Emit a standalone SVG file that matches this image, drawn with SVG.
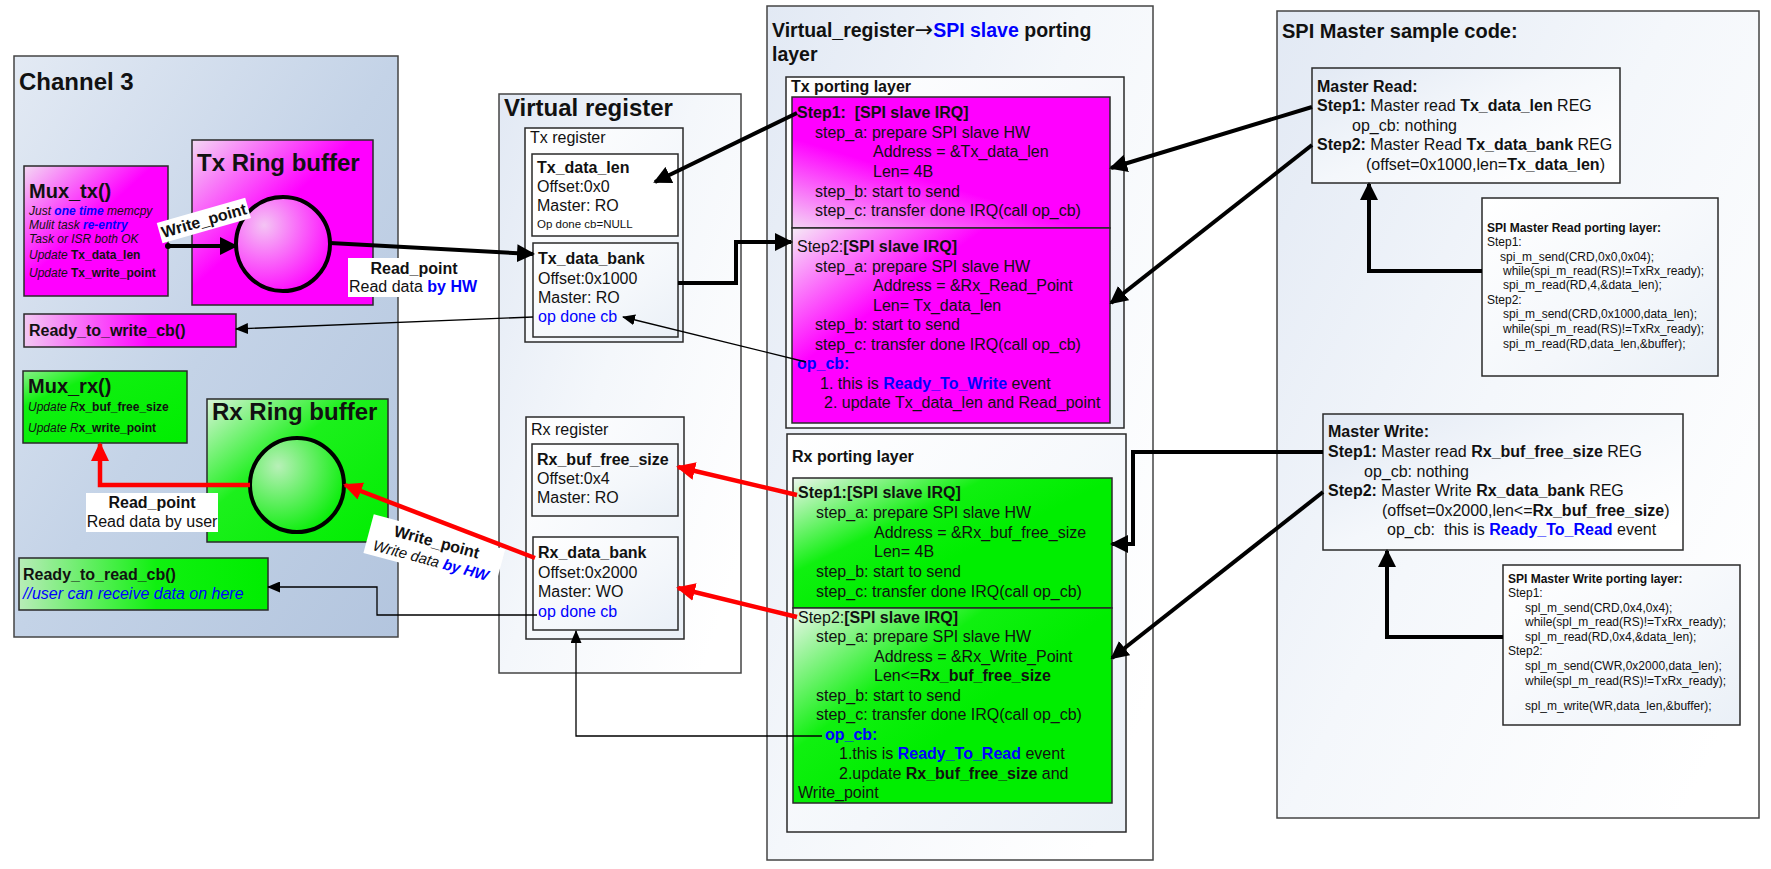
<svg xmlns="http://www.w3.org/2000/svg" width="1771" height="869" viewBox="0 0 1771 869">
<defs>
<style>
text{font-family:"Liberation Sans",Arial,sans-serif;fill:#111}
.b{font-weight:bold}
.n{font-weight:normal}
.i{font-style:italic}
.up{font-style:normal}
.blue{fill:#0000ff}
.f16{font-size:16px}
.f12{font-size:12px}
.box{stroke:#2a2a2a;stroke-width:1.5}
.frame{stroke:#444;stroke-width:1.5}
.thick{stroke:#000;stroke-width:4;fill:none}
.thin{stroke:#000;stroke-width:1.3;fill:none}
.red{stroke:#ff0000;stroke-width:4.5;fill:none}
.lbl{fill:#fff}
.arw{font-family:"DejaVu Sans",sans-serif;font-weight:normal}
</style>
<linearGradient id="gCh3" x1="0" y1="0" x2="1" y2="1">
<stop offset="0" stop-color="#e3eaf4"/><stop offset="0.5" stop-color="#c4d3e7"/><stop offset="1" stop-color="#b3c5de"/>
</linearGradient>
<linearGradient id="gPale" x1="0" y1="0" x2="1" y2="0.8">
<stop offset="0" stop-color="#e2e9f4"/><stop offset="0.5" stop-color="#f4f7fb"/><stop offset="1" stop-color="#ffffff"/>
</linearGradient>
<linearGradient id="gWhite" x1="0" y1="0" x2="1" y2="1">
<stop offset="0" stop-color="#ffffff"/><stop offset="0.6" stop-color="#f4f7fb"/><stop offset="1" stop-color="#eaf0f7"/>
</linearGradient>
<linearGradient id="gPink" x1="0" y1="0" x2="1" y2="1">
<stop offset="0" stop-color="#f3d8f3"/><stop offset="0.45" stop-color="#ff00ff"/><stop offset="1" stop-color="#ff00ff"/>
</linearGradient>
<linearGradient id="gPinkH" x1="0" y1="0" x2="1" y2="0">
<stop offset="0" stop-color="#f2c8f2"/><stop offset="0.6" stop-color="#ff00ff"/><stop offset="1" stop-color="#ff00ff"/>
</linearGradient>
<linearGradient id="gPink1" x1="0" y1="1" x2="0.6" y2="0.2">
<stop offset="0" stop-color="#f4d4f4"/><stop offset="0.55" stop-color="#ff00ff"/><stop offset="1" stop-color="#ff00ff"/>
</linearGradient>
<linearGradient id="gPink2" x1="0" y1="0" x2="0.6" y2="0.5">
<stop offset="0" stop-color="#f6eaf6"/><stop offset="0.6" stop-color="#ff00ff"/><stop offset="1" stop-color="#ff00ff"/>
</linearGradient>
<linearGradient id="gGreen" x1="0" y1="0" x2="1" y2="1">
<stop offset="0" stop-color="#d9f4d9"/><stop offset="0.4" stop-color="#1cf01c"/><stop offset="1" stop-color="#00ee00"/>
</linearGradient>
<linearGradient id="gGreenS" x1="0" y1="0" x2="1" y2="1">
<stop offset="0" stop-color="#88f088"/><stop offset="0.25" stop-color="#10f010"/><stop offset="1" stop-color="#00ee00"/>
</linearGradient>
<linearGradient id="gGreenH" x1="0" y1="0" x2="1" y2="0">
<stop offset="0" stop-color="#b8ecb8"/><stop offset="0.55" stop-color="#10f010"/><stop offset="1" stop-color="#00ee00"/>
</linearGradient>
<linearGradient id="gGreen2" x1="0" y1="0" x2="0.6" y2="0.5">
<stop offset="0" stop-color="#eef6ee"/><stop offset="0.6" stop-color="#10f010"/><stop offset="1" stop-color="#00ee00"/>
</linearGradient>
<radialGradient id="gCircP" cx="0.3" cy="0.3" r="0.8">
<stop offset="0" stop-color="#f4c4f4"/><stop offset="1" stop-color="#ff00ff"/>
</radialGradient>
<radialGradient id="gCircG" cx="0.3" cy="0.3" r="0.8">
<stop offset="0" stop-color="#b8f0b8"/><stop offset="1" stop-color="#00ee00"/>
</radialGradient>
<marker id="aBig" markerUnits="userSpaceOnUse" markerWidth="18" markerHeight="18" refX="16" refY="9" orient="auto"><path d="M0,0 L18,9 L0,18 z" fill="#000"/></marker>
<marker id="aRed" markerUnits="userSpaceOnUse" markerWidth="19" markerHeight="18" refX="17" refY="9" orient="auto"><path d="M0,0 L19,9 L0,18 z" fill="#ff0000"/></marker>
<marker id="aThin" markerUnits="userSpaceOnUse" markerWidth="13" markerHeight="11" refX="12" refY="5.5" orient="auto"><path d="M0,0 L13,5.5 L0,11 z" fill="#000"/></marker>
</defs>
<rect width="1771" height="869" fill="#ffffff"/>

<!-- containers -->
<g id="channel3">
<rect x="14" y="56" width="384" height="581" fill="url(#gCh3)" class="frame"/>
<text x="19" y="90" class="b" font-size="24">Channel 3</text>
</g>
<g id="virtual-register">
<rect x="499" y="94" width="242" height="579" fill="url(#gPale)" class="frame"/>
<text x="504" y="116" class="b" font-size="24">Virtual register</text>
</g>
<g id="spi-slave-porting">
<rect x="767" y="6" width="386" height="854" fill="url(#gPale)" class="frame"/>
<text x="772" y="37" class="b" font-size="19.5">Virtual_register<tspan class="arw" font-size="22">→</tspan><tspan class="blue">SPI slave</tspan> porting</text>
<text x="772" y="61" class="b" font-size="19.5">layer</text>
</g>
<g id="spi-master">
<rect x="1277" y="11" width="482" height="807" fill="url(#gPale)" class="frame"/>
<text x="1282" y="38" class="b" font-size="20">SPI Master sample code:</text>
</g>

<!-- Channel 3 nodes -->
<g id="tx-ring-buffer">
<rect x="192" y="140" width="181" height="165" fill="url(#gPink)" class="box"/>
<text x="197" y="171" class="b" font-size="24">Tx Ring buffer</text>
<circle cx="283" cy="244" r="47" fill="url(#gCircP)" stroke="#000" stroke-width="4"/>
</g>
<g id="mux-tx">
<rect x="24" y="166" width="144" height="130" fill="url(#gPink)" class="box"/>
<text x="29" y="198" class="b" font-size="20">Mux_tx()</text>
<text x="29" y="215" class="i f12">Just <tspan class="b blue">one time</tspan> memcpy</text>
<text x="29" y="229" class="i f12">Mulit task <tspan class="b blue">re-entry</tspan></text>
<text x="29" y="243" class="i f12">Task or ISR both OK</text>
<text x="29" y="259" class="i f12">Update <tspan class="b up">Tx_data_len</tspan></text>
<text x="29" y="277" class="i f12">Update <tspan class="b up">Tx_write_point</tspan></text>
</g>
<g id="ready-to-write-cb">
<rect x="24" y="314" width="212" height="33" fill="url(#gPinkH)" class="box"/>
<text x="29" y="336" class="b f16">Ready_to_write_cb()</text>
</g>
<g id="mux-rx">
<rect x="23" y="371" width="164" height="72" fill="url(#gGreenS)" class="box"/>
<text x="28" y="393" class="b" font-size="20">Mux_rx()</text>
<text x="28" y="411" class="i f12">Update R<tspan class="b up">x_buf_free_size</tspan></text>
<text x="28" y="432" class="i f12">Update R<tspan class="b up">x_write_point</tspan></text>
</g>
<g id="rx-ring-buffer">
<rect x="207" y="399" width="181" height="143" fill="url(#gGreen)" class="box"/>
<text x="212" y="420" class="b" font-size="24">Rx Ring buffer</text>
<circle cx="297" cy="485" r="47" fill="url(#gCircG)" stroke="#000" stroke-width="4"/>
</g>
<g id="ready-to-read-cb">
<rect x="19" y="558" width="249" height="52" fill="url(#gGreenH)" class="box"/>
<text x="23" y="580" class="b f16">Ready_to_read_cb()</text>
<text x="23" y="599" class="i f16 blue">//user can receive data on here</text>
</g>

<!-- Virtual register nodes -->
<g id="tx-register">
<rect x="525" y="128" width="158" height="214" fill="url(#gWhite)" class="box"/>
<text x="530" y="143" class="f16">Tx register</text>
</g>
<g id="tx-data-len">
<rect x="532" y="154" width="146" height="82" fill="#ffffff" class="box"/>
<text x="537" y="173" class="b f16">Tx_data_len</text>
<text x="537" y="192" class="f16">Offset:0x0</text>
<text x="537" y="211" class="f16">Master: RO</text>
<text x="537" y="228" font-size="11.5">Op done cb=NULL</text>
</g>
<g id="tx-data-bank">
<rect x="533" y="243" width="145" height="94" fill="url(#gWhite)" class="box"/>
<text x="538" y="264" class="b f16">Tx_data_bank</text>
<text x="538" y="284" class="f16">Offset:0x1000</text>
<text x="538" y="303" class="f16">Master: RO</text>
<text x="538" y="322" class="f16 blue">op done cb</text>
</g>
<g id="rx-register">
<rect x="526" y="417" width="158" height="222" fill="url(#gWhite)" class="box"/>
<text x="531" y="435" class="f16">Rx register</text>
</g>
<g id="rx-buf-free-size">
<rect x="532" y="444" width="146" height="72" fill="url(#gWhite)" class="box"/>
<text x="537" y="465" class="b f16">Rx_buf_free_size</text>
<text x="537" y="484" class="f16">Offset:0x4</text>
<text x="537" y="503" class="f16">Master: RO</text>
</g>
<g id="rx-data-bank">
<rect x="533" y="537" width="145" height="93" fill="url(#gWhite)" class="box"/>
<text x="538" y="558" class="b f16">Rx_data_bank</text>
<text x="538" y="578" class="f16">Offset:0x2000</text>
<text x="538" y="597" class="f16">Master: WO</text>
<text x="538" y="617" class="f16 blue">op done cb</text>
</g>

<!-- SPI slave porting nodes -->
<g id="tx-porting-layer">
<rect x="786" y="77" width="338" height="351" fill="url(#gWhite)" class="box"/>
<text x="791" y="92" class="b f16">Tx porting layer</text>
</g>
<g id="tx-step1">
<rect x="792" y="97" width="318" height="131" fill="url(#gPink1)" class="box"/>
<text x="797" y="118" class="b f16" xml:space="preserve">Step1:  [SPI slave IRQ]</text>
<text x="815" y="138" class="f16">step_a: prepare SPI slave HW</text>
<text x="873" y="157" class="f16">Address = &amp;Tx_data_len</text>
<text x="873" y="177" class="f16">Len= 4B</text>
<text x="815" y="197" class="f16">step_b: start to send</text>
<text x="815" y="216" class="f16">step_c: transfer done IRQ(call op_cb)</text>
</g>
<g id="tx-step2">
<rect x="792" y="228" width="318" height="195" fill="url(#gPink2)" class="box"/>
<text x="797" y="252" class="f16">Step2:<tspan class="b">[SPI slave IRQ]</tspan></text>
<text x="815" y="272" class="f16">step_a: prepare SPI slave HW</text>
<text x="873" y="291" class="f16">Address = &amp;Rx_Read_Point</text>
<text x="873" y="311" class="f16">Len= Tx_data_len</text>
<text x="815" y="330" class="f16">step_b: start to send</text>
<text x="815" y="350" class="f16">step_c: transfer done IRQ(call op_cb)</text>
<text x="797" y="369" class="b f16 blue">op_cb:</text>
<text x="820" y="389" class="f16">1. this is <tspan class="b blue">Ready_To_Write</tspan> event</text>
<text x="824" y="408" class="f16">2. update Tx_data_len and Read_point</text>
</g>
<g id="rx-porting-layer">
<rect x="787" y="434" width="339" height="398" fill="url(#gWhite)" class="box"/>
<text x="792" y="462" class="b f16">Rx porting layer</text>
</g>
<g id="rx-step1">
<rect x="793" y="478" width="319" height="130" fill="url(#gGreen2)" class="box"/>
<text x="798" y="498" class="b f16">Step1:[SPI slave IRQ]</text>
<text x="816" y="518" class="f16">step_a: prepare SPI slave HW</text>
<text x="874" y="538" class="f16">Address = &amp;Rx_buf_free_size</text>
<text x="874" y="557" class="f16">Len= 4B</text>
<text x="816" y="577" class="f16">step_b: start to send</text>
<text x="816" y="597" class="f16">step_c: transfer done IRQ(call op_cb)</text>
</g>
<g id="rx-step2">
<rect x="793" y="608" width="319" height="195" fill="url(#gGreen2)" class="box"/>
<text x="798" y="623" class="f16">Step2:<tspan class="b">[SPI slave IRQ]</tspan></text>
<text x="816" y="642" class="f16">step_a: prepare SPI slave HW</text>
<text x="874" y="662" class="f16">Address = &amp;Rx_Write_Point</text>
<text x="874" y="681" class="f16">Len&lt;=<tspan class="b">Rx_buf_free_size</tspan></text>
<text x="816" y="701" class="f16">step_b: start to send</text>
<text x="816" y="720" class="f16">step_c: transfer done IRQ(call op_cb)</text>
<text x="825" y="740" class="b f16 blue">op_cb:</text>
<text x="839" y="759" class="f16">1.this is <tspan class="b blue">Ready_To_Read</tspan> event</text>
<text x="839" y="779" class="f16">2.update <tspan class="b">Rx_buf_free_size</tspan> and</text>
<text x="798" y="798" class="f16">Write_point</text>
</g>

<!-- SPI master nodes -->
<g id="master-read">
<rect x="1312" y="68" width="308" height="115" fill="url(#gPale)" class="box"/>
<text x="1317" y="92" class="b f16">Master Read:</text>
<text x="1317" y="111" class="f16"><tspan class="b">Step1:</tspan> Master read <tspan class="b">Tx_data_len</tspan> REG</text>
<text x="1352" y="131" class="f16">op_cb: nothing</text>
<text x="1317" y="150" class="f16"><tspan class="b">Step2:</tspan> Master Read <tspan class="b">Tx_data_bank</tspan> REG</text>
<text x="1366" y="170" class="f16">(offset=0x1000,len=<tspan class="b">Tx_data_len</tspan>)</text>
</g>
<g id="master-read-porting">
<rect x="1482" y="198" width="236" height="178" fill="url(#gWhite)" class="box"/>
<text x="1487" y="232" class="b f12">SPI Master Read porting layer:</text>
<text x="1487" y="246" class="f12">Step1:</text>
<text x="1500" y="261" class="f12">spi_m_send(CRD,0x0,0x04);</text>
<text x="1503" y="275" class="f12">while(spi_m_read(RS)!=TxRx_ready);</text>
<text x="1503" y="289" class="f12">spi_m_read(RD,4,&amp;data_len);</text>
<text x="1487" y="304" class="f12">Step2:</text>
<text x="1503" y="318" class="f12">spi_m_send(CRD,0x1000,data_len);</text>
<text x="1503" y="333" class="f12">while(spi_m_read(RS)!=TxRx_ready);</text>
<text x="1503" y="348" class="f12">spi_m_read(RD,data_len,&amp;buffer);</text>
</g>
<g id="master-write">
<rect x="1323" y="414" width="360" height="136" fill="url(#gPale)" class="box"/>
<text x="1328" y="437" class="b f16">Master Write:</text>
<text x="1328" y="457" class="f16"><tspan class="b">Step1:</tspan> Master read <tspan class="b">Rx_buf_free_size</tspan> REG</text>
<text x="1364" y="477" class="f16">op_cb: nothing</text>
<text x="1328" y="496" class="f16"><tspan class="b">Step2:</tspan> Master Write <tspan class="b">Rx_data_bank</tspan> REG</text>
<text x="1382" y="516" class="f16">(offset=0x2000,len&lt;=<tspan class="b">Rx_buf_free_size</tspan>)</text>
<text x="1387" y="535" class="f16" xml:space="preserve">op_cb:  this is <tspan class="b blue">Ready_To_Read</tspan> event</text>
</g>
<g id="master-write-porting">
<rect x="1503" y="565" width="237" height="160" fill="url(#gWhite)" class="box"/>
<text x="1508" y="583" class="b f12">SPI Master Write porting layer:</text>
<text x="1508" y="597" class="f12">Step1:</text>
<text x="1525" y="612" class="f12">spl_m_send(CRD,0x4,0x4);</text>
<text x="1525" y="626" class="f12">while(spl_m_read(RS)!=TxRx_ready);</text>
<text x="1525" y="641" class="f12">spl_m_read(RD,0x4,&amp;data_len);</text>
<text x="1508" y="655" class="f12">Step2:</text>
<text x="1525" y="670" class="f12">spl_m_send(CWR,0x2000,data_len);</text>
<text x="1525" y="685" class="f12">while(spl_m_read(RS)!=TxRx_ready);</text>
<text x="1525" y="710" class="f12">spl_m_write(WR,data_len,&amp;buffer);</text>
</g>

<!-- connectors -->
<g id="connectors">
<circle cx="168" cy="246" r="3" fill="#000"/>
<path class="thick" d="M168,246 L236,246" marker-end="url(#aBig)"/>
<path class="thick" d="M330,243 L533,254" marker-end="url(#aBig)"/>
<path class="thick" d="M797,113 L655,182" marker-end="url(#aBig)"/>
<path class="thick" d="M678,283 L736,283 L736,242 L791,242" marker-end="url(#aBig)"/>
<path class="thick" d="M1312,107 L1111,168" marker-end="url(#aBig)"/>
<path class="thick" d="M1312,145 L1111,303" marker-end="url(#aBig)"/>
<path class="thick" d="M1323,452 L1133,452 L1133,544 L1112,544" marker-end="url(#aBig)"/>
<path class="thick" d="M1323,492 L1112,658" marker-end="url(#aBig)"/>
<path class="thick" d="M1482,271 L1369,271 L1369,184" marker-end="url(#aBig)"/>
<path class="thick" d="M1503,637 L1387,637 L1387,551" marker-end="url(#aBig)"/>
<path class="red" d="M250,485 L100,485 L100,444" marker-end="url(#aRed)"/>
<path class="red" d="M535,558 L345,485" marker-end="url(#aRed)"/>
<path class="red" d="M797,495 L678,467" marker-end="url(#aRed)"/>
<path class="red" d="M797,617 L678,588" marker-end="url(#aRed)"/>
<path class="thin" d="M533,317 L236,329" marker-end="url(#aThin)"/>
<path class="thin" d="M806,362 L623,317" marker-end="url(#aThin)"/>
<path class="thin" d="M537,615 L377,615 L377,587 L268,587" marker-end="url(#aThin)"/>
<path class="thin" d="M822,736 L576,736 L576,631" marker-end="url(#aThin)"/>
</g>

<!-- connector labels -->
<g id="labels">
<g transform="translate(204,221) rotate(-16)">
<rect x="-46" y="-11" width="92" height="21" class="lbl"/>
<text x="0" y="5" text-anchor="middle" class="b f16">Write_point</text>
</g>
<rect x="348" y="258" width="134" height="39" class="lbl"/>
<text x="414" y="274" text-anchor="middle" class="b f16">Read_point</text>
<text x="349" y="292" class="f16">Read data <tspan class="b blue">by HW</tspan></text>
<rect x="86" y="493" width="132" height="39" class="lbl"/>
<text x="152" y="508" text-anchor="middle" class="b f16">Read_point</text>
<text x="152" y="527" text-anchor="middle" class="f16">Read data by user</text>
<g transform="translate(433,556) rotate(15)">
<rect x="-68" y="-25" width="136" height="40" class="lbl"/>
<text x="0" y="-9" text-anchor="middle" class="b f16">Write_point</text>
<text x="-1" y="10" text-anchor="middle" class="i" font-size="15">Write data <tspan class="b blue">by HW</tspan></text>
</g>
</g>
</svg>
